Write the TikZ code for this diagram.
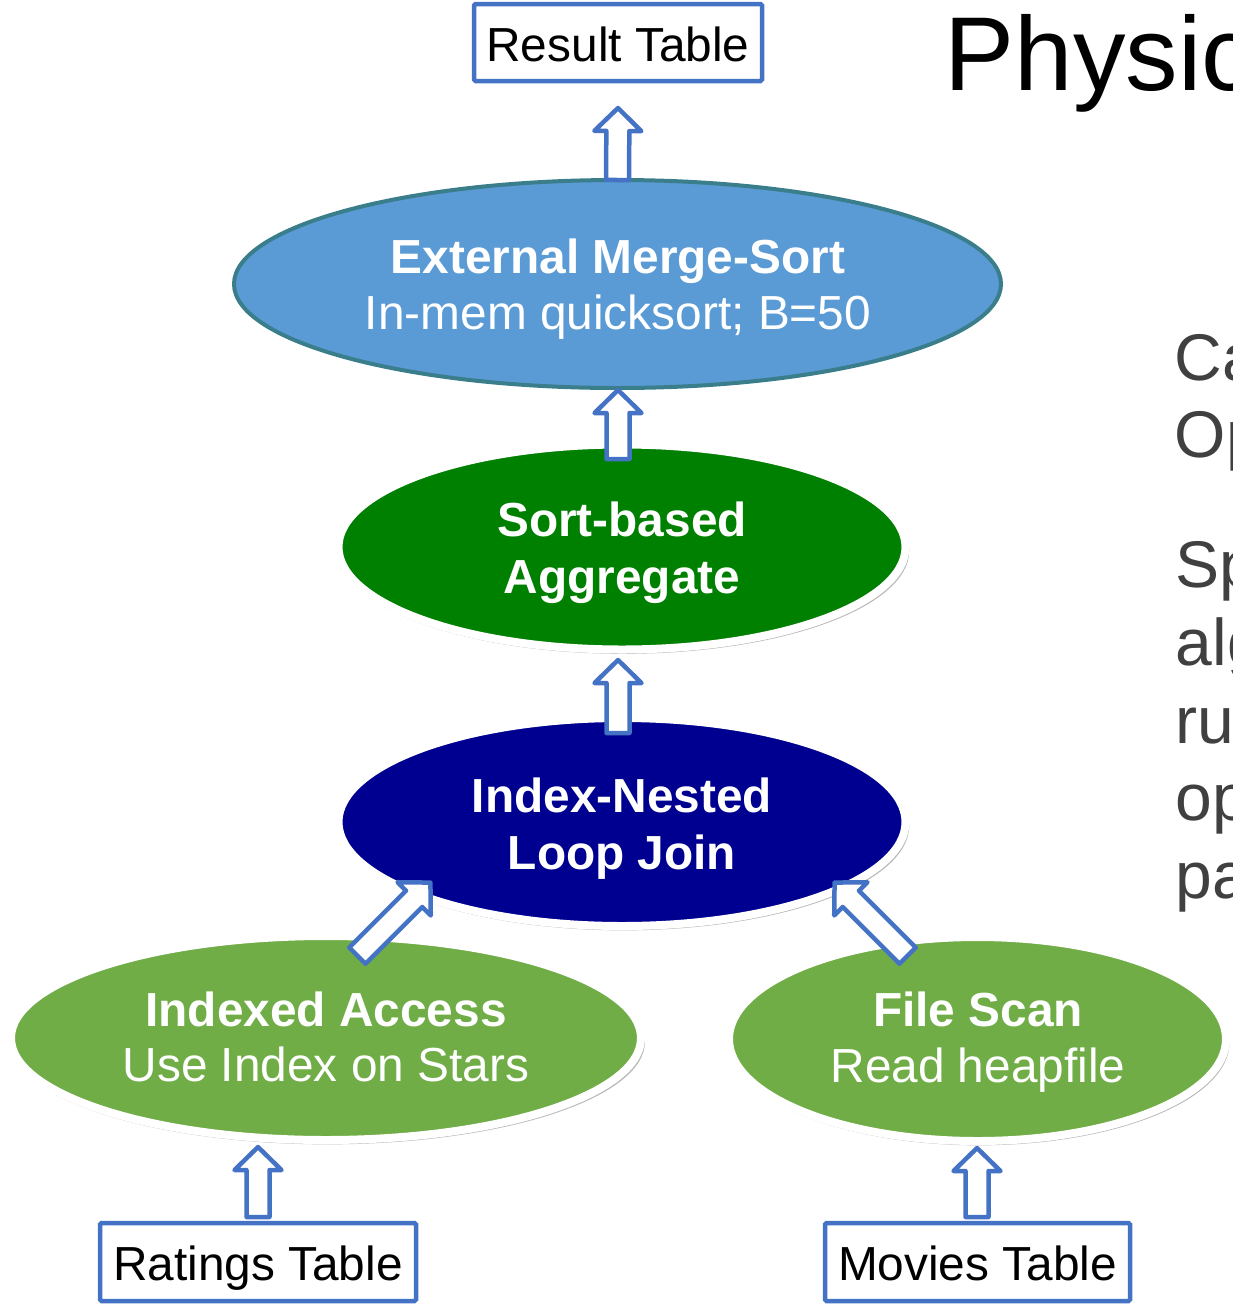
\documentclass[tikz,border=0pt]{standalone}
\usepackage{fontspec}
\setmainfont{Liberation Sans}
\usetikzlibrary{shapes.geometric,shadows,calc}
\definecolor{boxblue}{RGB}{68,114,196}
\definecolor{ellblue}{RGB}{91,155,213}
\definecolor{ellblueb}{RGB}{58,126,140}
\definecolor{darkgreen}{RGB}{0,128,0}
\definecolor{navyfill}{RGB}{0,0,144}
\definecolor{lightgreen}{RGB}{112,173,71}
\definecolor{graytext}{RGB}{64,64,64}
\tikzset{
 tablebox/.style={draw=boxblue, line width=4.5pt, rounded corners=1.5pt, fill=white, inner sep=0pt, outer sep=0pt,
   text height=37pt, text depth=0pt, font=\fontsize{47.8}{57}\selectfont},
 oval/.style={ellipse, inner sep=0pt, outer sep=0pt},
 shadowoval/.style={oval, draw=white, line width=8pt,
   drop shadow={shadow xshift=1.5pt, shadow yshift=-3.5pt, shadow scale=1.008, opacity=0.4, fill=black!70}},
 eltext/.style={text=white, anchor=base, inner sep=0pt, font=\fontsize{47.8}{57}\selectfont},
 elbold/.style={eltext, font=\fontsize{47.8}{57}\selectfont\bfseries},
 sidetext/.style={anchor=base west, inner sep=0pt, text=graytext, font=\fontsize{66}{77}\selectfont},
 barrow/.style={draw=boxblue, fill=white, line width=4.5pt, line join=round},
}
\newcommand\blockarr[2]{%
 \path[barrow] let \p1=(#1), \p2=(#2), \n1={atan2(\y2-\y1,\x2-\x1)}, \n2={veclen(\x2-\x1,\y2-\y1)} in
  [shift={(\p1)}, rotate=\n1]
  (0pt,-11.5pt) -- ({(\n2-23)*1pt},-11.5pt) -- ({(\n2-23)*1pt},-23.5pt) -- ({\n2*1pt},0pt)
  -- ({(\n2-23)*1pt},23.5pt) -- ({(\n2-23)*1pt},11.5pt) -- (0pt,11.5pt) -- cycle;}
\begin{document}
\begin{tikzpicture}[x=1pt,y=-1pt]
\useasboundingbox (0,0) rectangle (1233,1307);
% boxes
\node[tablebox, minimum width=288pt, minimum height=77pt] (result) at (618,42.5) {Result Table};
\node[tablebox, minimum width=316pt, minimum height=78pt] (ratings) at (258,1262) {Ratings Table};
\node[tablebox, minimum width=305pt, minimum height=78pt] (movies) at (977.5,1262) {Movies Table};
% ellipses
\node[oval, draw=ellblueb, line width=4pt, fill=ellblue, minimum width=767pt, minimum height=208pt] (ems) at (617.5,284) {};
\node[shadowoval, fill=darkgreen, minimum width=567pt, minimum height=205pt] (agg) at (622,547) {};
\node[shadowoval, fill=navyfill, minimum width=567pt, minimum height=208pt] (inl) at (622,822) {};
\node[shadowoval, fill=lightgreen, minimum width=630pt, minimum height=204pt] (ia) at (326,1038) {};
\node[shadowoval, fill=lightgreen, minimum width=497pt, minimum height=204pt] (fs) at (977.5,1039) {};
% ellipse texts
\node[elbold] (ems1) at (618,273) {External Merge-Sort};
\node[eltext] (ems2) at (618,329) {In-mem quicksort; B=50};
\node[elbold] (agg1) at (622,536) {Sort-based};
\node[elbold] (agg2) at (622,593) {Aggregate};
\node[elbold] (inl1) at (622,812) {Index-Nested};
\node[elbold] (inl2) at (622,869) {Loop Join};
\node[elbold] (ia1) at (326,1026) {Indexed Access};
\node[eltext] (ia2) at (326,1081) {Use Index on Stars};
\node[elbold] (fs1) at (978,1026) {File Scan};
\node[eltext] (fs2) at (978,1082) {Read heapfile};
% arrow end points
\coordinate (a1t) at (ems.north);
\coordinate (a1h) at ($(result.south)+(0,27)$);
\coordinate (a2t) at ($(agg.north)+(-4,14.5)$);
\coordinate (a2h) at ($(ems.south)+(0.5,2)$);
\coordinate (a3t) at ($(inl.north)+(-4,15)$);
\coordinate (a3h) at ($(agg.south)+(-4,10.5)$);
\coordinate (a4t) at ($(ia.center)+(31.4,-82.4)$);
\coordinate (a4h) at ($(inl.center)+(-191.4,60.4)$);
\coordinate (a5t) at ($(fs.center)+(-69.9,-83.4)$);
\coordinate (a5h) at ($(inl.center)+(212.4,60.4)$);
\coordinate (a6t) at ($(ratings.north)+(0,-6)$);
\coordinate (a6h) at ($(ia.south)+(-68,7)$);
\coordinate (a7t) at ($(movies.north)+(-0.5,-6)$);
\coordinate (a7h) at ($(fs.south)+(-0.5,7)$);
\blockarr{a1t}{a1h}
\blockarr{a2t}{a2h}
\blockarr{a3t}{a3h}
\blockarr{a4t}{a4h}
\blockarr{a5t}{a5h}
\blockarr{a6t}{a6h}
\blockarr{a7t}{a7h}
% side texts
\node[anchor=base west, inner sep=0pt, font=\fontsize{105}{120}\selectfont] (title) at (944.5,90) {Physic};
\node[sidetext] (s1) at (1174.5,380) {Ca};
\node[sidetext] (s2) at (1174.5,457) {Op};
\node[sidetext] (s3) at (1175.5,587) {Sp};
\node[sidetext] (s4) at (1175.5,665) {alg};
\node[sidetext] (s5) at (1175.5,743) {ru};
\node[sidetext] (s6) at (1175.5,820) {op};
\node[sidetext] (s7) at (1175.5,898) {pa};
\end{tikzpicture}
\end{document}
